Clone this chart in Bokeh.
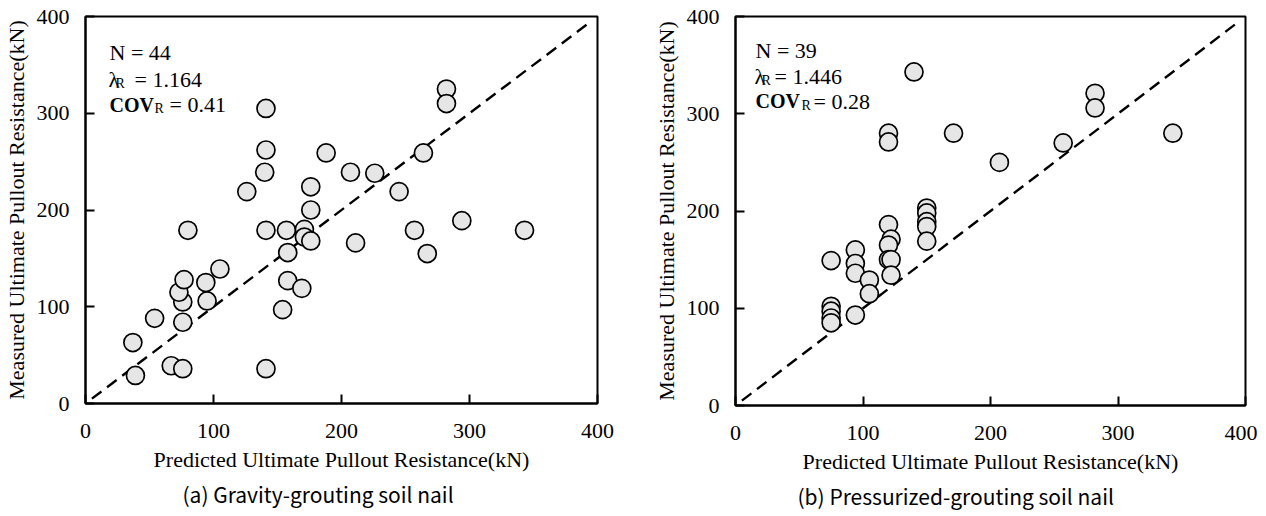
from bokeh.plotting import figure
from bokeh.layouts import row
from bokeh.models import Label, Title, Range1d, FixedTicker
from bokeh.embed import file_html
from bokeh.resources import INLINE

# ---------------- data ----------------
axis_ticks = [0, 100, 200, 300, 400]
one_to_one = [5, 395]

# (a) Gravity-grouting soil nail
grav_pred = [37, 39, 54, 67, 76, 76, 76, 73, 77, 94, 95, 105, 80, 141, 141,
             154, 158, 158, 169, 157, 171, 171, 176, 141, 141, 140, 126, 176,
             176, 282, 282, 188, 264, 207, 226, 245, 294, 257, 343, 211, 267]
grav_meas = [63, 29, 88, 39, 36, 84, 105, 115, 128, 125, 106, 139, 179, 36, 179,
             97, 156, 127, 119, 179, 180, 172, 168, 305, 262, 239, 219, 224,
             200, 325, 310, 259, 259, 239, 238, 219, 189, 179, 179, 166, 155]

# (b) Pressurized-grouting soil nail
pres_pred = [75, 94, 94, 94, 94, 105, 105, 75, 75, 75, 75, 120, 122, 120, 120,
             122, 122, 150, 150, 150, 150, 150, 120, 120, 140, 171, 207, 257,
             282, 282, 343]
pres_meas = [149, 160, 146, 136, 93, 129, 115, 102, 97, 90, 85, 186, 171, 165,
             150, 150, 134, 203, 198, 189, 184, 169, 280, 271, 343, 280, 250,
             270, 321, 306, 280]

x_title = "Predicted Ultimate Pullout Resistance(kN)"
y_title = "Measured Ultimate Pullout Resistance(kN)"
captions = ["(a) Gravity-grouting soil nail", "(b) Pressurized-grouting soil nail"]
stats = [("N = 44", "1.164", "0.41"), ("N = 39", "1.446", "0.28")]

SERIF = "Liberation Serif"


def panel(xs, ys, caption, stat, fw, fh, bl, br, bt, bb, cap_off, pos):
    p = figure(frame_width=fw, frame_height=fh,
               x_range=Range1d(0, 400), y_range=Range1d(0, 400),
               output_backend="svg", toolbar_location=None,
               min_border_left=bl, min_border_right=br,
               min_border_top=bt, min_border_bottom=bb,
               background_fill_color="white", border_fill_color="white")
    p.xgrid.visible = False
    p.ygrid.visible = False
    p.outline_line_color = "black"
    p.outline_line_width = 2
    p.outline_line_alpha = 1
    for ax in (p.xaxis[0], p.yaxis[0]):
        ax.ticker = FixedTicker(ticks=axis_ticks)
        ax.axis_line_width = 2
        ax.axis_line_color = "black"
        ax.major_tick_line_width = 2
        ax.major_tick_line_color = "black"
        ax.major_tick_in = 9
        ax.major_tick_out = 0
        ax.minor_tick_line_color = None
        ax.major_label_text_font = SERIF
        ax.major_label_text_font_size = "22px"
        ax.major_label_text_color = "black"
        ax.axis_label_text_font = SERIF
        ax.axis_label_text_font_size = "22px"
        ax.axis_label_text_font_style = "normal"
        ax.axis_label_text_color = "black"
    p.xaxis.axis_label = x_title
    p.yaxis.axis_label = y_title
    p.xaxis.major_label_standoff = 20
    p.xaxis.axis_label_standoff = 6
    p.yaxis.major_label_standoff = 16
    p.yaxis.axis_label_standoff = 5
    p.yaxis.major_label_orientation = "horizontal"

    p.line(one_to_one, one_to_one, line_color="black", line_width=2.4,
           line_dash="12 7")
    p.scatter(xs, ys, size=18, fill_color="#e6e6e6", line_color="black",
              line_width=1.7)

    n_txt, lam_txt, cov_txt = stat
    (nx, ny), (lx, ly), (rx, ry), (ex, ey), (cx, cy), (r2x, r2y), (e2x, e2y) = pos
    common = dict(text_font=SERIF, text_color="black", text_baseline="alphabetic")
    p.add_layout(Label(x=nx, y=ny, text=n_txt, text_font_size="22px", **common))
    p.add_layout(Label(x=lx, y=ly, text="λ", text_font_size="22px", **common))
    p.add_layout(Label(x=rx, y=ry, text="R", text_font_size="14px", **common))
    p.add_layout(Label(x=ex, y=ey, text="= " + lam_txt, text_font_size="22px", **common))
    p.add_layout(Label(x=cx, y=cy, text="COV", text_font_size="20px",
                       text_font_style="bold", **common))
    p.add_layout(Label(x=r2x, y=r2y, text="R", text_font_size="14px", **common))
    p.add_layout(Label(x=e2x, y=e2y, text="= " + cov_txt, text_font_size="22px", **common))

    t = Title(text=caption, align="left", offset=cap_off,
              text_font="Noto Sans CJK KR", text_font_size="21px",
              text_font_style="normal", text_color="black", standoff=4)
    p.add_layout(t, "below")
    return p


pos_a = [(18.75, 362.8), (18.0, 334.9), (23.4, 330.7), (38.3, 334.9),
         (18.75, 309.0), (54.0, 304.9), (65.6, 309.0)]
pos_b = [(15.7, 365.0), (14.9, 338.3), (20.4, 334.2), (30.6, 338.3),
         (15.7, 312.6), (51.8, 308.5), (61.2, 312.6)]

p1 = panel(grav_pred, grav_meas, captions[0], stats[0], 512, 387, 78, 32, 16, 97, 97, pos_a)
p2 = panel(pres_pred, pres_meas, captions[1], stats[1], 510, 389, 106, 12, 14, 97, 62, pos_b)

layout = row(p1, p2)
open("out.html", "w").write(file_html(layout, INLINE))
